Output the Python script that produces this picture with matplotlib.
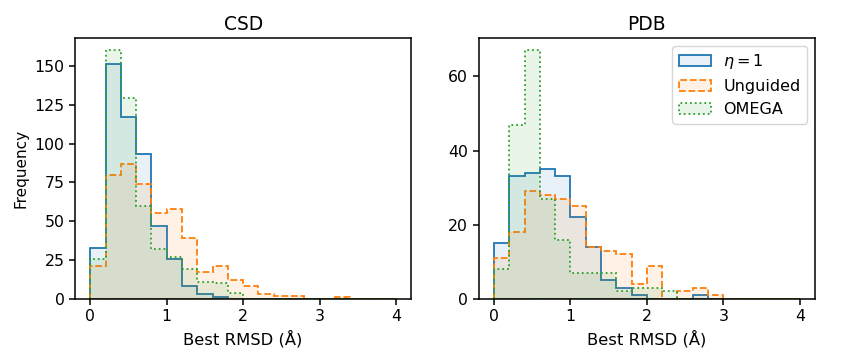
import numpy as np
import matplotlib
matplotlib.use('Agg')
import matplotlib.pyplot as plt
from matplotlib.colors import to_rgba
from matplotlib.ticker import MultipleLocator

edges = np.linspace(0, 4, 21)

csd_eta1 = [33, 151, 117, 93, 47, 26, 8, 3, 1, 0, 0, 0, 0, 0, 0, 0, 0, 0, 0, 0]
csd_unguided = [21, 80, 87, 74, 55, 58, 39, 17, 21, 12, 8, 3, 2, 2, 0, 0, 1, 0, 0, 0]
csd_omega = [26, 160, 129, 60, 32, 27, 19, 11, 10, 4, 0, 0, 0, 0, 0, 0, 0, 0, 0, 0]

pdb_eta1 = [15, 33, 34, 35, 33, 22, 14, 5, 3, 1, 0, 0, 0, 1, 0, 0, 0, 0, 0, 0]
pdb_unguided = [11, 18, 29, 28, 27, 25, 14, 13, 12, 4, 9, 0, 2, 3, 1, 0, 0, 0, 0, 0]
pdb_omega = [8, 47, 67, 27, 16, 7, 7, 7, 2, 3, 3, 2, 0, 0, 0, 0, 0, 0, 0, 0]

labels = [r'$\eta = 1$', 'Unguided', 'OMEGA']
colors = ['C0', 'C1', 'C2']
styles = ['-', '--', ':']

centers = (edges[:-1] + edges[1:]) / 2

plt.rcParams['xtick.labelsize'] = 11.3
plt.rcParams['ytick.labelsize'] = 11.3
plt.rcParams['axes.linewidth'] = 1.1
plt.rcParams['xtick.major.width'] = 1.1
plt.rcParams['ytick.major.width'] = 1.1
plt.rcParams['xtick.major.size'] = 4
plt.rcParams['ytick.major.size'] = 4

fig = plt.figure(figsize=(8.42, 3.61), dpi=100)
panels = [('CSD', [csd_eta1, csd_unguided, csd_omega], 25),
          ('PDB', [pdb_eta1, pdb_unguided, pdb_omega], 20)]

for i, (title, series, step) in enumerate(panels):
    ax = fig.add_subplot(1, 2, i + 1)
    for counts, lab, c, ls in zip(series, labels, colors, styles):
        ax.hist(centers, bins=edges, weights=counts, histtype='stepfilled',
                facecolor=to_rgba(c, 0.1), edgecolor=c, linestyle=ls,
                linewidth=1.3, label=lab)
    ax.set_title(title, fontsize=13.4)
    ax.set_xlabel('Best RMSD (Å)', fontsize=11.8)
    ax.set_xticks([0, 1, 2, 3, 4])
    ax.yaxis.set_major_locator(MultipleLocator(step))
    if i == 0:
        ax.set_ylabel('Frequency', fontsize=11)
    else:
        ax.legend(loc='upper right', fontsize=11.5)

plt.subplots_adjust(left=0.089, right=0.968, top=0.895, bottom=0.172, wspace=0.2)
plt.savefig('out.png', dpi=100)
